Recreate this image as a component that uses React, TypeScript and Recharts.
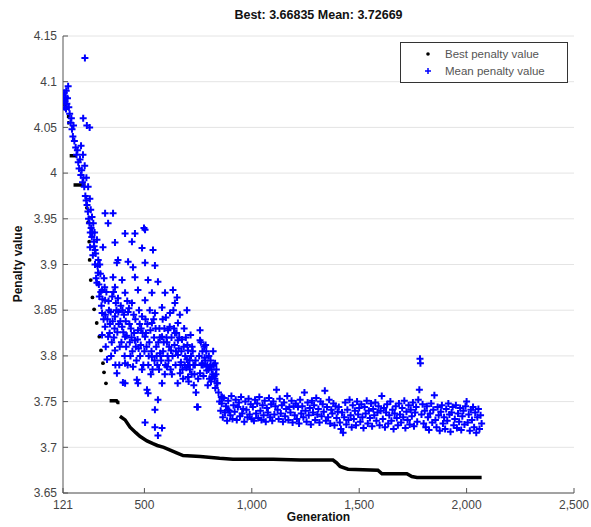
import React from "react";
import { ComposedChart, Line, Scatter, XAxis, YAxis, CartesianGrid } from "recharts";

// axis ticks
const xTicks = [121, 500, 1000, 1500, 2000, 2500];
const yTicks = [3.65, 3.7, 3.75, 3.8, 3.85, 3.9, 3.95, 4, 4.05, 4.1, 4.15];

// best penalty: flat runs (generation, value)
const bestSegments: [number, number][][] = [
  [[121, 4.075], [136, 4.075]],
  [[139, 4.062], [150, 4.062]],
  [[141, 4.055], [151, 4.055]],
  [[152, 4.019], [186, 4.019]],
  [[170, 3.987], [226, 3.987]],
  [[338, 3.751], [370, 3.751], [376, 3.749], [384, 3.749]],
  [
    [386, 3.734], [410, 3.73], [433, 3.722], [460, 3.716], [479, 3.712], [512, 3.707],
    [540, 3.704], [560, 3.702], [590, 3.7], [620, 3.697], [650, 3.694], [680, 3.691],
    [760, 3.69], [850, 3.688], [912, 3.687], [1100, 3.687], [1225, 3.686], [1378, 3.686],
    [1395, 3.683], [1411, 3.679], [1448, 3.676], [1587, 3.675], [1606, 3.671], [1722, 3.671],
    [1745, 3.668], [1769, 3.667], [2070, 3.667],
  ],
];

// best penalty: single generations during the fast drop
const bestDots: [number, number][] = [
  [232, 3.962], [238, 3.946], [243, 3.925], [245, 3.905], [250, 3.883], [258, 3.864],
  [266, 3.851], [278, 3.836], [290, 3.821], [298, 3.806], [307, 3.792], [312, 3.782],
  [321, 3.77],
];

// mean penalty, first generations
const meanEarly: [number, number][] = [
  [121, 4.085], [124, 4.08], [127, 4.088], [128, 4.072], [130, 4.078], [133, 4.083],
  [135, 4.07], [136, 4.09], [139, 4.076], [142, 4.082], [145, 4.095], [148, 4.072],
  [152, 4.065], [156, 4.055], [160, 4.06], [163, 4.048], [167, 4.04], [170, 4.052],
  [174, 4.035], [180, 4.028], [184, 4.02], [188, 4.025], [192, 4.012], [196, 4.005],
  [200, 4.015], [204, 3.998], [205, 4.03], [208, 4.003], [212, 3.99], [214, 4.02],
  [215, 4.06], [216, 3.995], [220, 3.985], [222, 4.008], [223, 4.126], [225, 3.975],
  [229, 3.97], [230, 3.995], [232, 4.052], [233, 3.965], [237, 3.958], [238, 3.985],
  [240, 3.95], [244, 3.945], [245, 4.05], [246, 3.972], [248, 3.935], [250, 3.96],
  [252, 3.94], [256, 3.952], [258, 3.935], [262, 3.945], [266, 3.92],
];

// mean penalty, scattered descent
const meanCloud: [number, number][] = [
  [247, 3.919], [255, 3.93], [260, 3.91], [265, 3.925], [268, 3.935], [270, 3.916],
  [270, 3.9], [273, 3.912], [275, 3.885], [279, 3.927], [279, 3.88], [282, 3.898],
  [284, 3.891], [285, 3.905], [288, 3.878], [290, 3.865], [292, 3.9], [295, 3.89],
  [297, 3.87], [300, 3.855], [303, 3.872], [303, 3.847], [303, 3.823], [305, 3.862],
  [307, 3.919], [310, 3.84], [312, 3.885], [315, 3.875], [317, 3.956], [317, 3.861],
  [317, 3.832], [318, 3.845], [320, 3.81], [323, 3.87], [326, 3.796], [328, 3.84],
  [331, 3.945], [331, 3.821], [333, 3.86], [335, 3.85], [338, 3.825], [340, 3.835],
  [343, 3.848], [345, 3.8], [348, 3.815], [350, 3.865], [352, 3.838], [354, 3.956],
  [354, 3.886], [356, 3.87], [358, 3.82], [361, 3.83], [363, 3.924], [363, 3.875],
  [363, 3.843], [363, 3.806], [365, 3.79], [367, 3.858], [370, 3.85], [372, 3.902],
  [372, 3.781], [374, 3.826], [377, 3.905], [377, 3.863], [379, 3.848], [380, 3.835],
  [383, 3.79], [385, 3.81], [388, 3.838], [390, 3.855], [393, 3.815], [396, 3.883],
  [396, 3.832], [398, 3.85], [400, 3.771], [402, 3.826], [405, 3.845], [408, 3.8],
  [410, 3.934], [410, 3.869], [410, 3.821], [410, 3.792], [410, 3.77], [413, 3.838],
  [415, 3.81], [418, 3.822], [420, 3.86], [422, 3.79], [424, 3.903], [424, 3.848],
  [428, 3.852], [430, 3.835], [432, 3.815], [435, 3.8], [437, 3.83], [440, 3.82],
  [442, 3.925], [442, 3.858], [444, 3.805], [447, 3.897], [447, 3.788], [450, 3.845],
  [452, 3.825], [456, 3.934], [456, 3.886], [456, 3.817], [458, 3.84], [460, 3.81],
  [463, 3.795], [465, 3.774], [468, 3.818], [470, 3.872], [470, 3.828], [470, 3.77],
  [473, 3.808], [475, 3.85], [478, 3.835], [480, 3.8], [483, 3.812], [485, 3.83],
  [489, 3.918], [489, 3.843], [489, 3.785], [492, 3.825], [495, 3.79], [498, 3.94],
  [500, 3.805], [503, 3.938], [503, 3.902], [503, 3.861], [503, 3.821], [503, 3.727],
  [505, 3.84], [507, 3.825], [510, 3.81], [512, 3.763], [514, 3.835], [517, 3.883],
  [517, 3.759], [518, 3.79], [520, 3.8], [523, 3.815], [525, 3.85], [528, 3.828],
  [530, 3.78], [533, 3.805], [535, 3.869], [535, 3.836], [535, 3.799], [538, 3.785],
  [540, 3.916], [543, 3.84], [545, 3.82], [547, 3.795], [549, 3.899], [549, 3.847],
  [549, 3.741], [549, 3.722], [552, 3.83], [555, 3.81], [557, 3.8], [560, 3.79],
  [563, 3.881], [563, 3.752], [563, 3.713], [565, 3.815], [568, 3.785], [570, 3.83],
  [572, 3.82], [573, 3.803], [575, 3.8], [578, 3.795], [582, 3.853], [582, 3.821],
  [582, 3.77], [582, 3.721], [585, 3.84], [587, 3.805], [590, 3.815], [593, 3.83],
  [595, 3.78], [596, 3.869], [598, 3.79], [600, 3.842], [603, 3.82], [605, 3.788],
  [605, 3.815], [608, 3.8], [610, 3.828], [612, 3.795], [615, 3.81], [618, 3.832],
  [619, 3.847], [622, 3.785], [624, 3.806], [626, 3.82], [628, 3.78], [631, 3.8],
  [633, 3.872], [635, 3.85], [638, 3.83], [640, 3.812], [642, 3.858], [642, 3.825],
  [645, 3.79], [647, 3.805], [650, 3.825], [652, 3.864], [655, 3.77], [656, 3.836],
  [656, 3.817], [656, 3.801], [660, 3.808], [662, 3.82], [665, 3.845], [666, 3.781],
  [668, 3.79], [670, 3.793], [672, 3.805], [675, 3.818], [677, 3.785], [680, 3.775],
  [683, 3.81], [685, 3.83], [688, 3.79], [690, 3.8], [693, 3.82], [695, 3.787],
  [698, 3.85], [698, 3.796], [700, 3.812], [703, 3.806], [703, 3.79], [703, 3.777],
  [706, 3.772], [710, 3.795], [712, 3.785], [715, 3.823], [717, 3.8], [720, 3.78],
  [722, 3.81], [725, 3.805], [728, 3.79], [730, 3.768], [733, 3.78], [735, 3.79],
  [738, 3.795], [740, 3.76], [745, 3.744], [749, 3.744], [750, 3.775], [755, 3.8],
  [759, 3.828], [759, 3.817], [759, 3.781], [763, 3.815], [766, 3.79], [768, 3.792],
  [770, 3.805], [772, 3.79], [775, 3.778], [778, 3.81], [780, 3.798], [783, 3.795],
  [785, 3.812], [788, 3.805], [790, 3.784], [791, 3.788], [793, 3.79], [795, 3.768],
  [798, 3.785], [800, 3.8], [803, 3.775], [805, 3.788], [808, 3.795], [810, 3.772],
  [813, 3.785], [815, 3.777], [818, 3.78], [820, 3.805], [823, 3.79], [825, 3.778],
  [828, 3.775], [829, 3.792], [830, 3.765], [833, 3.78], [835, 3.785], [838, 3.77],
  [840, 3.77], [845, 3.76], [850, 3.75], [855, 3.74], [858, 3.755], [861, 3.755],
];

// mean penalty, settled band
const meanBand: [number, number][] = [
  [860, 3.748], [865, 3.733], [870, 3.754], [875, 3.738], [880, 3.745], [885, 3.729],
  [889, 3.741], [890, 3.751], [895, 3.74], [900, 3.735], [905, 3.756], [910, 3.731],
  [915, 3.746], [920, 3.739], [925, 3.752], [930, 3.73], [935, 3.744], [940, 3.749],
  [945, 3.734], [950, 3.755], [955, 3.737], [960, 3.742], [965, 3.728], [970, 3.75],
  [975, 3.741], [980, 3.733], [985, 3.753], [990, 3.736], [995, 3.747], [1000, 3.731],
  [1005, 3.744], [1010, 3.729], [1015, 3.752], [1020, 3.737], [1025, 3.748], [1030, 3.732],
  [1035, 3.755], [1040, 3.74], [1045, 3.73], [1050, 3.746], [1055, 3.735], [1060, 3.751],
  [1065, 3.728], [1070, 3.743], [1075, 3.738], [1080, 3.754], [1085, 3.733], [1090, 3.747],
  [1095, 3.729], [1100, 3.75], [1105, 3.736], [1110, 3.745], [1115, 3.763], [1120, 3.741],
  [1125, 3.731], [1130, 3.753], [1135, 3.737], [1140, 3.746], [1145, 3.728], [1150, 3.749],
  [1155, 3.734], [1160, 3.742], [1165, 3.756], [1170, 3.73], [1175, 3.744], [1180, 3.738],
  [1185, 3.751], [1190, 3.727], [1195, 3.745], [1200, 3.735], [1205, 3.748], [1210, 3.731],
  [1215, 3.744], [1220, 3.726], [1225, 3.752], [1230, 3.737], [1235, 3.745], [1240, 3.733],
  [1245, 3.76], [1250, 3.74], [1255, 3.728], [1260, 3.749], [1265, 3.735], [1270, 3.743],
  [1275, 3.725], [1280, 3.751], [1285, 3.738], [1290, 3.746], [1295, 3.73], [1300, 3.754],
  [1305, 3.736], [1310, 3.742], [1315, 3.727], [1320, 3.75], [1325, 3.734], [1330, 3.747],
  [1335, 3.739], [1340, 3.762], [1345, 3.729], [1350, 3.744], [1355, 3.733], [1360, 3.752],
  [1365, 3.726], [1370, 3.741], [1375, 3.737], [1380, 3.748], [1385, 3.724], [1390, 3.745],
  [1395, 3.732], [1400, 3.739], [1405, 3.744], [1410, 3.727], [1415, 3.72], [1420, 3.738],
  [1425, 3.716], [1430, 3.733], [1435, 3.749], [1440, 3.725], [1445, 3.741], [1450, 3.73],
  [1455, 3.752], [1460, 3.735], [1465, 3.722], [1470, 3.746], [1475, 3.731], [1480, 3.74],
  [1485, 3.724], [1490, 3.75], [1495, 3.736], [1500, 3.743], [1505, 3.728], [1510, 3.747],
  [1515, 3.733], [1520, 3.721], [1525, 3.744], [1530, 3.737], [1535, 3.751], [1540, 3.726],
  [1545, 3.74], [1550, 3.732], [1555, 3.748], [1560, 3.723], [1565, 3.742], [1570, 3.735],
  [1575, 3.749], [1580, 3.729], [1585, 3.738], [1590, 3.745], [1595, 3.724], [1600, 3.74],
  [1605, 3.756], [1610, 3.731], [1615, 3.743], [1620, 3.722], [1625, 3.738], [1630, 3.747],
  [1635, 3.726], [1640, 3.735], [1645, 3.75], [1650, 3.729], [1655, 3.741], [1660, 3.72],
  [1665, 3.737], [1670, 3.745], [1675, 3.732], [1680, 3.724], [1685, 3.748], [1690, 3.736],
  [1695, 3.727], [1700, 3.743], [1705, 3.733], [1710, 3.751], [1715, 3.721], [1720, 3.739],
  [1725, 3.73], [1730, 3.746], [1735, 3.725], [1740, 3.741], [1745, 3.734], [1750, 3.749],
  [1755, 3.723], [1760, 3.738], [1765, 3.744], [1770, 3.728], [1775, 3.752], [1780, 3.763],
  [1783, 3.797], [1785, 3.792], [1790, 3.736], [1795, 3.747], [1800, 3.726], [1805, 3.74],
  [1810, 3.722], [1815, 3.745], [1820, 3.733], [1825, 3.719], [1830, 3.737], [1835, 3.748],
  [1840, 3.727], [1845, 3.741], [1850, 3.757], [1855, 3.73], [1860, 3.722], [1865, 3.744],
  [1870, 3.735], [1875, 3.718], [1880, 3.739], [1885, 3.746], [1890, 3.726], [1895, 3.733],
  [1900, 3.72], [1905, 3.742], [1910, 3.729], [1915, 3.748], [1920, 3.736], [1925, 3.717],
  [1930, 3.738], [1935, 3.744], [1940, 3.724], [1945, 3.731], [1950, 3.746], [1955, 3.721],
  [1960, 3.737], [1965, 3.728], [1970, 3.743], [1975, 3.719], [1980, 3.734], [1985, 3.74],
  [1990, 3.725], [1995, 3.745], [2000, 3.75], [2005, 3.727], [2010, 3.736], [2015, 3.718],
  [2020, 3.741], [2025, 3.73], [2030, 3.744], [2035, 3.722], [2040, 3.738], [2045, 3.716],
  [2050, 3.733], [2055, 3.742], [2060, 3.72], [2065, 3.735], [2070, 3.726],
];

const FONT = '"Liberation Sans", Arial, sans-serif';
const BLUE = "#0000ff";

const toPts = (arr: [number, number][]) => arr.map(([g, v]) => ({ g, v }));
const meanPts = toPts([...meanEarly, ...meanCloud, ...meanBand]);

const PlusMark = (props: any) => {
  const { cx, cy } = props;
  if (cx == null || cy == null) return null;
  return (
    <path
      d={`M${cx - 3.5},${cy}h7M${cx},${cy - 3.5}v7`}
      stroke={BLUE}
      strokeWidth={2}
      fill="none"
    />
  );
};

const BlackDot = (props: any) => {
  const { cx, cy } = props;
  if (cx == null || cy == null) return null;
  return <circle cx={cx} cy={cy} r={1.9} fill="#000" />;
};

const tickStyle = { fill: "#444", fontSize: 12, fontFamily: FONT };

export default function App() {
  return (
    <div
      style={{
        position: "absolute",
        left: 0,
        top: 0,
        width: 591,
        height: 527,
        background: "#fff",
        fontFamily: FONT,
      }}
    >
      <ComposedChart width={591} height={527} margin={{ top: 36, right: 17, bottom: 4, left: 23 }}>
        <CartesianGrid horizontal vertical={false} stroke="#e4e4e4" />
        <XAxis
          dataKey="g"
          type="number"
          domain={[121, 2500]}
          ticks={xTicks}
          allowDataOverflow
          height={30}
          stroke="#555"
          tickSize={-5}
          tickMargin={12}
          tick={tickStyle}
          tickFormatter={(v: number) => v.toLocaleString("en-US")}
        />
        <XAxis
          xAxisId="top"
          orientation="top"
          type="number"
          domain={[121, 2500]}
          ticks={xTicks}
          allowDataOverflow
          height={0}
          stroke="#555"
          tickSize={-5}
          tickFormatter={() => ""}
        />
        <YAxis
          dataKey="v"
          type="number"
          domain={[3.65, 4.15]}
          ticks={yTicks}
          allowDataOverflow
          width={40}
          stroke="#555"
          tickSize={-5}
          tickMargin={11}
          tick={tickStyle}
          tickFormatter={(v: number) => String(+v.toFixed(2))}
        />
        <YAxis
          yAxisId="right"
          orientation="right"
          type="number"
          domain={[3.65, 4.15]}
          ticks={yTicks}
          allowDataOverflow
          width={0}
          stroke="#555"
          tickSize={-5}
          tickFormatter={() => ""}
        />

        {bestSegments.map((seg, i) => (
          <Line
            key={i}
            data={toPts(seg)}
            dataKey="v"
            stroke="#000"
            strokeWidth={3.5}
            dot={false}
            activeDot={false}
            isAnimationActive={false}
          />
        ))}
        <Scatter data={toPts(bestDots)} dataKey="v" shape={BlackDot} isAnimationActive={false} />
        <Scatter data={meanPts} dataKey="v" shape={PlusMark} isAnimationActive={false} />
      </ComposedChart>

      {/* title */}
      <div
        style={{
          position: "absolute",
          left: 63,
          width: 511,
          top: 8,
          textAlign: "center",
          fontSize: 12.5,
          fontWeight: "bold",
          color: "#111",
        }}
      >
        Best: 3.66835 Mean: 3.72669
      </div>

      {/* axis labels */}
      <div
        style={{
          position: "absolute",
          left: 63,
          width: 511,
          top: 510,
          textAlign: "center",
          fontSize: 12,
          fontWeight: "bold",
          color: "#111",
        }}
      >
        Generation
      </div>
      <div
        style={{
          position: "absolute",
          left: 18,
          top: 264,
          transform: "translate(-50%, -50%) rotate(-90deg)",
          whiteSpace: "nowrap",
          fontSize: 12,
          fontWeight: "bold",
          color: "#111",
        }}
      >
        Penalty value
      </div>

      {/* legend */}
      <div
        style={{
          position: "absolute",
          left: 400,
          top: 42,
          width: 166,
          height: 39,
          border: "1px solid #333",
          background: "#fff",
          fontSize: 11.5,
          color: "#555",
        }}
      >
        <div style={{ position: "absolute", left: 0, top: 3, height: 16, display: "flex", alignItems: "center" }}>
          <svg width={44} height={16}>
            <circle cx={27} cy={8} r={1.8} fill="#000" />
          </svg>
          <span>Best penalty value</span>
        </div>
        <div style={{ position: "absolute", left: 0, top: 20, height: 16, display: "flex", alignItems: "center" }}>
          <svg width={44} height={16}>
            <path d="M24,8h6M27,5v6" stroke={BLUE} strokeWidth={1.5} fill="none" />
          </svg>
          <span>Mean penalty value</span>
        </div>
      </div>
    </div>
  );
}
